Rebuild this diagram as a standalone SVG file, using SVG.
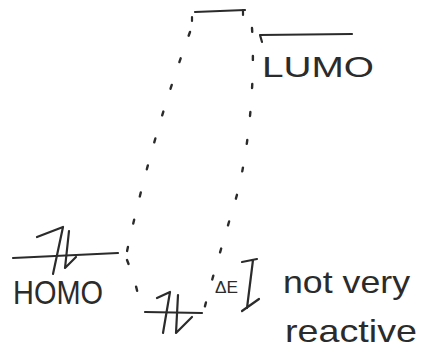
<svg xmlns="http://www.w3.org/2000/svg" width="425" height="360" viewBox="0 0 425 360">
<style>
.ink{fill:none;stroke:#2b2b2b;stroke-width:2.2;stroke-linecap:round;stroke-linejoin:round}
.dot{fill:none;stroke:#2b2b2b;stroke-width:2.4;stroke-linecap:round;stroke-dasharray:4 24}
.t{fill:#2b2b2b;font-family:"Liberation Sans",Arial,sans-serif}
</style>
<rect width="425" height="360" fill="#fff"/>
<g id="connectors">
<path class="dot" d="M190,32 Q151,139 126,256"/>
<path class="dot" d="M127,260 Q137,285 140,305" stroke-dasharray="3 9"/>
<path class="dot" d="M252,28 C256,90 246,170 233,208 C223,243 211,282 204,310"/>
</g>
<g id="level-top">
<path class="ink" d="M195,12 L245,10"/>
<path class="ink" d="M192,17 L192,21"/>
<path class="ink" d="M243,10 L243,15"/>
</g>
<g id="lumo">
<path class="ink" d="M262,42 L260,35 L352,34"/>
<text class="t" x="262" y="77" font-size="30" textLength="112" lengthAdjust="spacingAndGlyphs">LUMO</text>
</g>
<g id="homo">
<path class="ink" d="M13,258 L118,253"/>
<path class="ink" d="M37,237 L63,227 L53,274"/>
<path class="ink" d="M69,231 L65,268 L76,257"/>
<text class="t" x="13" y="304" font-size="33" textLength="90" lengthAdjust="spacingAndGlyphs">HOMO</text>
</g>
<g id="level-low">
<path class="ink" d="M145,312 L202,313"/>
<path class="ink" d="M157,298 L170,292 L163,333"/>
<path class="ink" d="M178,295 L176,333 L192,317"/>
</g>
<g id="delta-e">
<path class="ink" d="M242,262 L257,259 M253,260 L247,308 M242,311 L259,299"/>
<text class="t" x="215" y="293" font-size="16" textLength="23" lengthAdjust="spacingAndGlyphs">ΔE</text>
</g>
<g id="note">
<text class="t" x="283" y="293" font-size="32" textLength="127" lengthAdjust="spacingAndGlyphs">not very</text>
<text class="t" x="285" y="342" font-size="32" textLength="132" lengthAdjust="spacingAndGlyphs">reactive</text>
</g>
</svg>
